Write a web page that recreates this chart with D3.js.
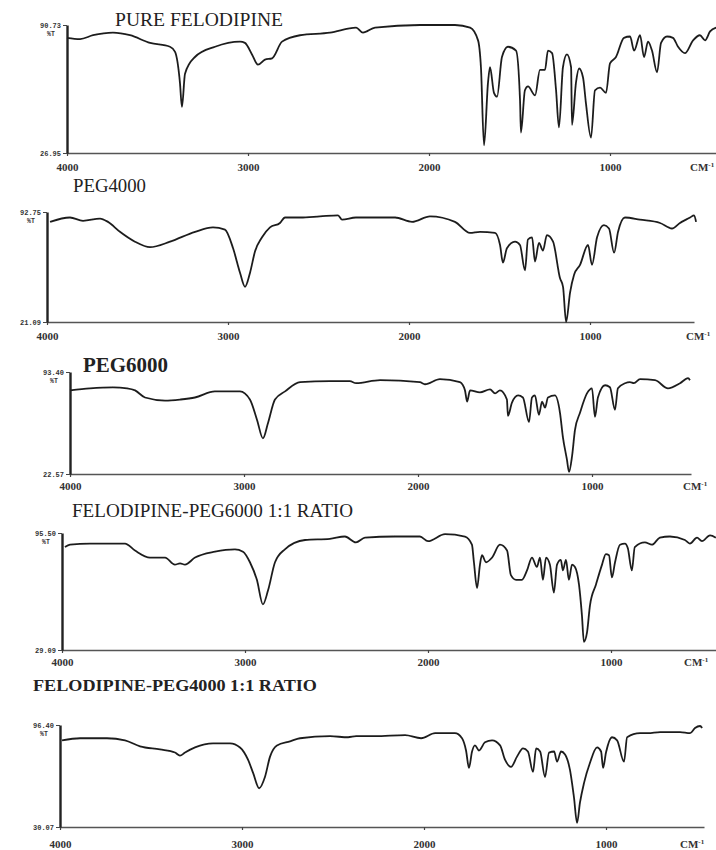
<!DOCTYPE html>
<html>
<head>
<meta charset="utf-8">
<script src="https://cdn.jsdelivr.net/npm/d3@7"></script>
<style>
  html, body { margin: 0; padding: 0; background: #fff; }
  svg { display: block; }
</style>
</head>
<body>
<div id="chart"></div>
<script>
// spectra: [wavenumber cm-1, transmittance as % of the plotted span]
const pureFelodipine = [[4000,90],[3928,89],[3856,92],[3746,94],[3652,92],[3541,86],[3431,83],[3403,79],[3376,55],[3365,36],[3348,62],[3293,75],[3182,83],[3044,87],[3017,86],[2978,77],[2945,69],[2906,73],[2867,74],[2812,87],[2713,92],[2547,94],[2403,98],[2365,94],[2298,98],[2050,100],[1856,100],[1773,98],[1729,88],[1713,67],[1696,6],[1674,55],[1663,67],[1641,47],[1624,44],[1597,75],[1564,83],[1519,80],[1497,41],[1492,16],[1470,49],[1453,52],[1414,45],[1387,65],[1359,65],[1343,80],[1320,78],[1298,49],[1282,20],[1260,67],[1238,77],[1215,67],[1210,22],[1188,55],[1171,66],[1149,59],[1133,39],[1105,12],[1083,49],[1055,51],[1022,47],[1000,70],[967,75],[923,90],[889,91],[867,80],[834,92],[812,75],[790,87],[768,80],[740,63],[718,86],[685,91],[652,90],[624,83],[586,78],[541,88],[503,92],[475,88],[447,95],[414,98]];

const peg4000 = [[3983,91],[3873,95],[3801,92],[3707,94],[3663,91],[3597,82],[3514,73],[3431,68],[3320,73],[3182,82],[3083,86],[3017,84],[2972,67],[2934,45],[2906,32],[2878,45],[2851,64],[2812,77],[2768,86],[2713,90],[2685,95],[2602,95],[2492,96],[2392,97],[2370,93],[2293,95],[2215,95],[2077,95],[1983,91],[1884,96],[1746,91],[1663,81],[1608,82],[1525,81],[1497,70],[1481,54],[1459,67],[1414,73],[1387,70],[1359,47],[1343,75],[1320,77],[1304,55],[1282,72],[1260,65],[1238,79],[1204,73],[1166,40],[1149,32],[1132,0],[1110,27],[1088,43],[1055,52],[1011,70],[989,52],[961,77],[923,88],[895,85],[867,63],[845,82],[807,95],[724,93],[613,90],[547,85],[503,90],[447,95],[425,97],[414,91]];

const peg6000 = [[4000,82],[3885,84],[3753,85],[3672,84],[3626,82],[3569,75],[3454,72],[3368,73],[3282,75],[3167,81],[3023,81],[2966,73],[2925,53],[2891,35],[2862,50],[2822,73],[2764,81],[2678,90],[2506,91],[2391,91],[2356,89],[2218,92],[1989,90],[1960,88],[1874,93],[1759,90],[1730,82],[1718,71],[1701,82],[1644,80],[1586,83],[1557,79],[1529,82],[1489,73],[1483,57],[1460,70],[1425,77],[1397,75],[1362,51],[1345,75],[1328,77],[1305,58],[1287,71],[1270,65],[1253,75],[1213,77],[1184,60],[1167,36],[1144,14],[1132,2],[1115,17],[1098,43],[1069,60],[1029,79],[1000,84],[983,56],[966,75],[925,87],[897,85],[868,63],[851,84],[810,89],[782,90],[759,89],[724,93],[638,92],[563,84],[494,89],[448,94],[437,92]];

const felPeg6000 = [[3984,88],[3956,90],[3847,91],[3721,91],[3656,91],[3601,85],[3519,79],[3437,79],[3383,73],[3355,74],[3328,73],[3273,79],[3164,84],[3055,86],[3011,84],[2973,75],[2935,60],[2902,39],[2874,51],[2836,75],[2782,86],[2672,94],[2536,95],[2454,97],[2394,92],[2344,96],[2180,97],[2044,97],[2000,93],[1907,99],[1798,97],[1760,90],[1749,75],[1732,53],[1716,73],[1705,81],[1683,75],[1650,79],[1607,90],[1568,85],[1547,64],[1519,60],[1487,60],[1459,68],[1432,79],[1405,71],[1388,79],[1372,60],[1355,79],[1334,73],[1312,49],[1295,73],[1274,77],[1263,68],[1246,77],[1230,60],[1213,73],[1197,71],[1175,56],[1159,30],[1148,7],[1131,15],[1115,38],[1082,56],[1049,73],[1028,82],[1011,81],[995,62],[978,75],[951,90],[924,91],[908,87],[886,68],[870,88],[815,92],[776,90],[733,96],[678,97],[596,94],[569,91],[530,96],[503,93],[459,98],[427,96]];

const felPeg4000 = [[3989,85],[3890,87],[3742,87],[3643,85],[3560,79],[3451,76],[3368,73],[3341,70],[3313,73],[3258,78],[3159,82],[3066,82],[3011,78],[2967,66],[2939,53],[2906,38],[2874,49],[2846,69],[2808,80],[2736,84],[2681,87],[2516,89],[2417,88],[2373,89],[2269,89],[2104,90],[2016,87],[1939,92],[1830,92],[1791,87],[1769,75],[1753,58],[1736,74],[1720,80],[1698,75],[1665,83],[1626,85],[1582,80],[1555,66],[1522,59],[1489,69],[1456,77],[1429,74],[1401,54],[1384,77],[1362,74],[1335,49],[1313,73],[1285,74],[1269,64],[1247,74],[1225,71],[1198,56],[1176,29],[1159,4],[1143,24],[1121,43],[1088,63],[1049,78],[1027,74],[1016,58],[1000,73],[967,88],[939,85],[901,64],[884,88],[813,92],[769,92],[703,93],[593,93],[538,92],[511,97],[483,99],[472,97]];

const titles = ['PURE FELODIPINE', 'PEG4000', 'PEG6000', 'FELODIPINE-PEG6000 1:1 RATIO', 'FELODIPINE-PEG4000 1:1 RATIO'];
const topLabels = ['90.73', '92.75', '93.40', '95.50', '96.40'];
const bottomLabels = ['26.95', '21.09', '22.57', '29.09', '30.07'];
const wavenumberTicks = [4000, 3000, 2000, 1000];

const width = 716, height = 850;
const svg = d3.select('#chart').append('svg')
  .attr('width', width)
  .attr('height', height);

svg.append('defs').append('filter')
  .attr('id', 'soft')
  .append('feGaussianBlur')
  .attr('stdDeviation', 0.35);

// where each scanned panel sits on the page
const panels = [
  { data: pureFelodipine, left: 67, right: 716, top: 25, bottom: 153, px: 181, tx: 115, ty: 26, tlen: 168, tsize: 18, bold: false, pad: 7, cmx: 690 },
  { data: peg4000, left: 47, right: 694, top: 212, bottom: 322, px: 181, tx: 73, ty: 192, tlen: 73, tsize: 18, bold: false, pad: 7, cmx: 686 },
  { data: peg6000, left: 70, right: 691, top: 372, bottom: 474, px: 174, tx: 83, ty: 372, tlen: 85, tsize: 20, bold: true, pad: 5, cmx: 683 },
  { data: felPeg6000, left: 62, right: 716, top: 533, bottom: 650, px: 183, tx: 72, ty: 517, tlen: 281, tsize: 18, bold: false, pad: 5, cmx: 684 },
  { data: felPeg4000, left: 60, right: 704, top: 725, bottom: 827, px: 182, tx: 33, ty: 691, tlen: 284, tsize: 17, bold: true, pad: 10, cmx: 680 }
];

const serif = '"Liberation Serif", "Times New Roman", serif';

panels.forEach((p, i) => {
  const g = svg.append('g');
  const x = d3.scaleLinear()
    .domain([4000, 4000 - (p.right - p.left) / p.px * 1000])
    .range([p.left, p.right]);
  const y = d3.scaleLinear().domain([0, 100]).range([p.bottom, p.top]);

  // title
  g.append('text')
    .attr('x', p.tx)
    .attr('y', p.ty)
    .attr('textLength', p.tlen)
    .attr('lengthAdjust', 'spacingAndGlyphs')
    .style('font-family', serif)
    .style('font-size', p.tsize + 'px')
    .style('font-weight', p.bold ? 'bold' : 'normal')
    .style('fill', '#222')
    .text(titles[i]);

  // wavenumber axis
  const xAxis = g.append('g')
    .attr('transform', `translate(0,${p.bottom})`)
    .call(d3.axisBottom(x).tickValues(wavenumberTicks).tickSize(3).tickSizeOuter(0).tickPadding(p.pad).tickFormat(d3.format('d')));
  xAxis.select('.domain').attr('stroke', '#555').attr('stroke-width', 1.4);
  xAxis.selectAll('.tick line').attr('stroke', '#444').attr('stroke-width', 1.2);
  xAxis.selectAll('.tick text')
    .style('font-family', serif)
    .style('font-size', '11px')
    .style('font-weight', 'bold')
    .style('fill', '#333');

  const cm = g.append('text')
    .attr('x', p.cmx)
    .attr('y', p.bottom + 3 + p.pad + 8)
    .style('font-family', serif)
    .style('font-size', '11px')
    .style('font-weight', 'bold')
    .style('fill', '#333')
    .text('CM');
  cm.append('tspan')
    .attr('dy', -4)
    .style('font-size', '7px')
    .text('-1');

  // transmittance axis
  const yAxis = g.append('g')
    .attr('transform', `translate(${p.left},0)`)
    .call(d3.axisLeft(y).tickValues([0, 100]).tickSize(4).tickSizeOuter(0).tickPadding(2)
      .tickFormat(d => d === 100 ? topLabels[i] : bottomLabels[i]));
  yAxis.select('.domain').attr('stroke', '#222').attr('stroke-width', 2.4);
  yAxis.selectAll('.tick line').attr('stroke', '#444').attr('stroke-width', 1);
  yAxis.selectAll('.tick text')
    .style('font-family', '"Liberation Mono", monospace')
    .style('font-size', '7px')
    .style('font-weight', 'bold')
    .style('fill', '#333');

  g.append('text')
    .attr('x', p.left - 16)
    .attr('y', p.top + 11)
    .attr('text-anchor', 'middle')
    .style('font-family', '"Liberation Mono", monospace')
    .style('font-size', '6.5px')
    .style('font-weight', 'bold')
    .style('fill', '#333')
    .text('%T');

  // spectrum
  const line = d3.line()
    .x(d => x(d[0]))
    .y(d => y(d[1]))
    .curve(d3.curveMonotoneX);

  g.append('path')
    .datum(p.data)
    .attr('d', line)
    .attr('fill', 'none')
    .attr('stroke', '#1e1e1e')
    .attr('stroke-width', 1.8)
    .attr('stroke-linejoin', 'round')
    .attr('filter', 'url(#soft)');
});
</script>
</body>
</html>
